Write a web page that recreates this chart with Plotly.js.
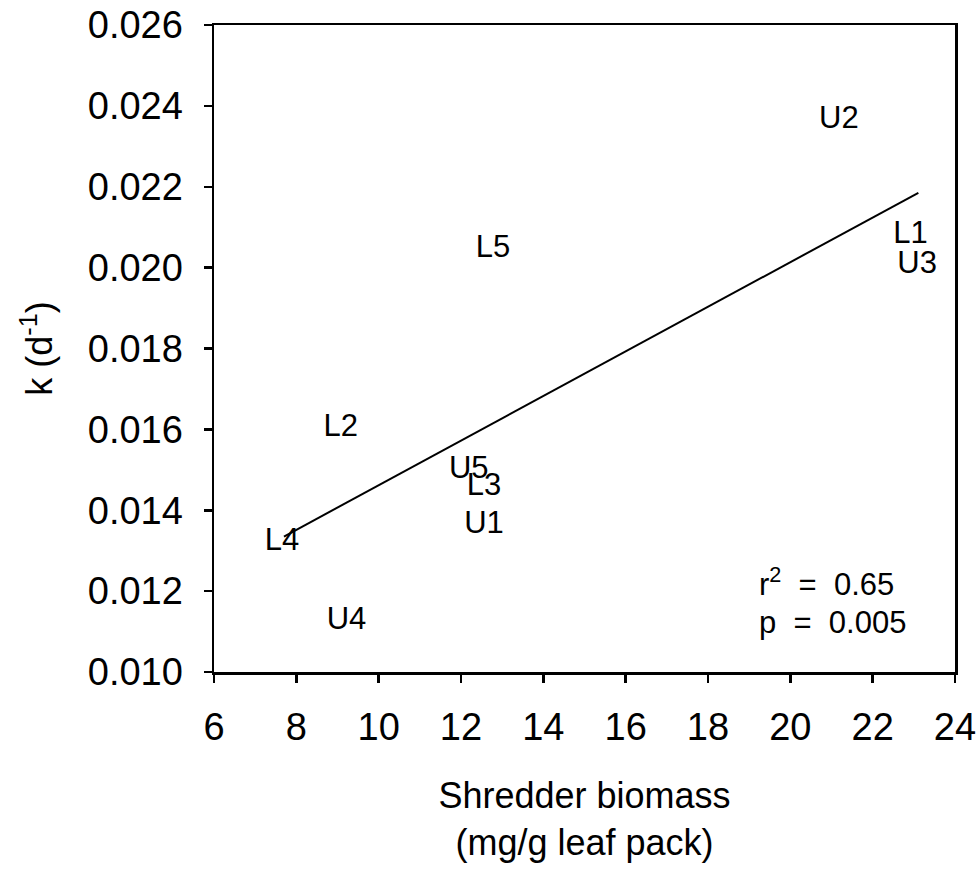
<!DOCTYPE html>
<html>
<head>
<meta charset="utf-8">
<script src="https://cdn.plot.ly/plotly-3.0.1.min.js"></script>
<style>html,body{margin:0;padding:0;background:#fff;}#chart{width:980px;height:877px;}</style>
</head>
<body>
<div id="chart"></div>
<script>
// Site labels and values
const sites = ["L4", "U4", "L2", "U5", "L3", "U1", "L5", "U2", "L1", "U3"];
const shredderBiomass = [7.65, 9.22, 9.08, 12.19, 12.56, 12.56, 12.78, 21.18, 22.92, 23.08];
const decayK = [0.01322, 0.01126, 0.01604, 0.01500, 0.01456, 0.01364, 0.02045, 0.02365, 0.02081, 0.02007];

// Regression line end points
const fitX = [7.70, 23.11];
const fitY = [0.01335, 0.02185];

const statLines = ["r<sup>2</sup>\u00a0\u00a0=\u00a0\u00a00.65", "p\u00a0\u00a0=\u00a0\u00a00.005"];
const statY = [0.01222, 0.01122];
const statX = 19.2;

const yTicks = [0.010, 0.012, 0.014, 0.016, 0.018, 0.020, 0.022, 0.024, 0.026];
const xTicks = [6, 8, 10, 12, 14, 16, 18, 20, 22, 24];

const FONT = "Liberation Sans, Arial, sans-serif";

const traces = [
  {
    x: shredderBiomass, y: decayK, text: sites,
    mode: "text", type: "scatter",
    textposition: "middle center",
    textfont: {family: FONT, size: 31, color: "#000"},
    hoverinfo: "skip", showlegend: false, cliponaxis: false
  },
  {
    x: fitX, y: fitY, mode: "lines", type: "scatter",
    line: {color: "#000", width: 2},
    hoverinfo: "skip", showlegend: false
  }
];

const annotations = statLines.map((t, i) => ({
  x: statX, y: statY[i], xref: "x", yref: "y",
  text: t, showarrow: false, xanchor: "left", yanchor: "middle",
  font: {family: FONT, size: 31, color: "#000"}
}));

const layout = {
  width: 980, height: 877,
  margin: {l: 214, r: 25, t: 25, b: 205},
  paper_bgcolor: "#fff", plot_bgcolor: "#fff",
  font: {family: FONT, color: "#000"},
  showlegend: false,
  xaxis: {
    range: [6, 24], tickvals: xTicks, ticktext: xTicks.map(String),
    showgrid: false, zeroline: false,
    showline: true, linecolor: "#000", linewidth: 2.5, mirror: true,
    ticks: "outside", ticklen: 8, tickwidth: 2.5, tickcolor: "#000",
    tickfont: {family: FONT, size: 38, color: "#000"},
    ticklabelstandoff: 12,
    title: {text: "Shredder biomass<br>(mg/g leaf pack)", font: {family: FONT, size: 36, color: "#000"}, standoff: 36}
  },
  yaxis: {
    range: [0.010, 0.026], tickvals: yTicks, ticktext: yTicks.map(v => v.toFixed(3)),
    showgrid: false, zeroline: false,
    showline: true, linecolor: "#000", linewidth: 2.5, mirror: true,
    ticks: "outside", ticklen: 8, tickwidth: 2.5, tickcolor: "#000",
    tickfont: {family: FONT, size: 38, color: "#000"},
    ticklabelstandoff: 13,
    title: {text: "k (d<sup>-1</sup>)", font: {family: FONT, size: 36, color: "#000"}, standoff: 24}
  },
  annotations: annotations
};

Plotly.newPlot("chart", traces, layout, {staticPlot: true, displayModeBar: false});
</script>
</body>
</html>
